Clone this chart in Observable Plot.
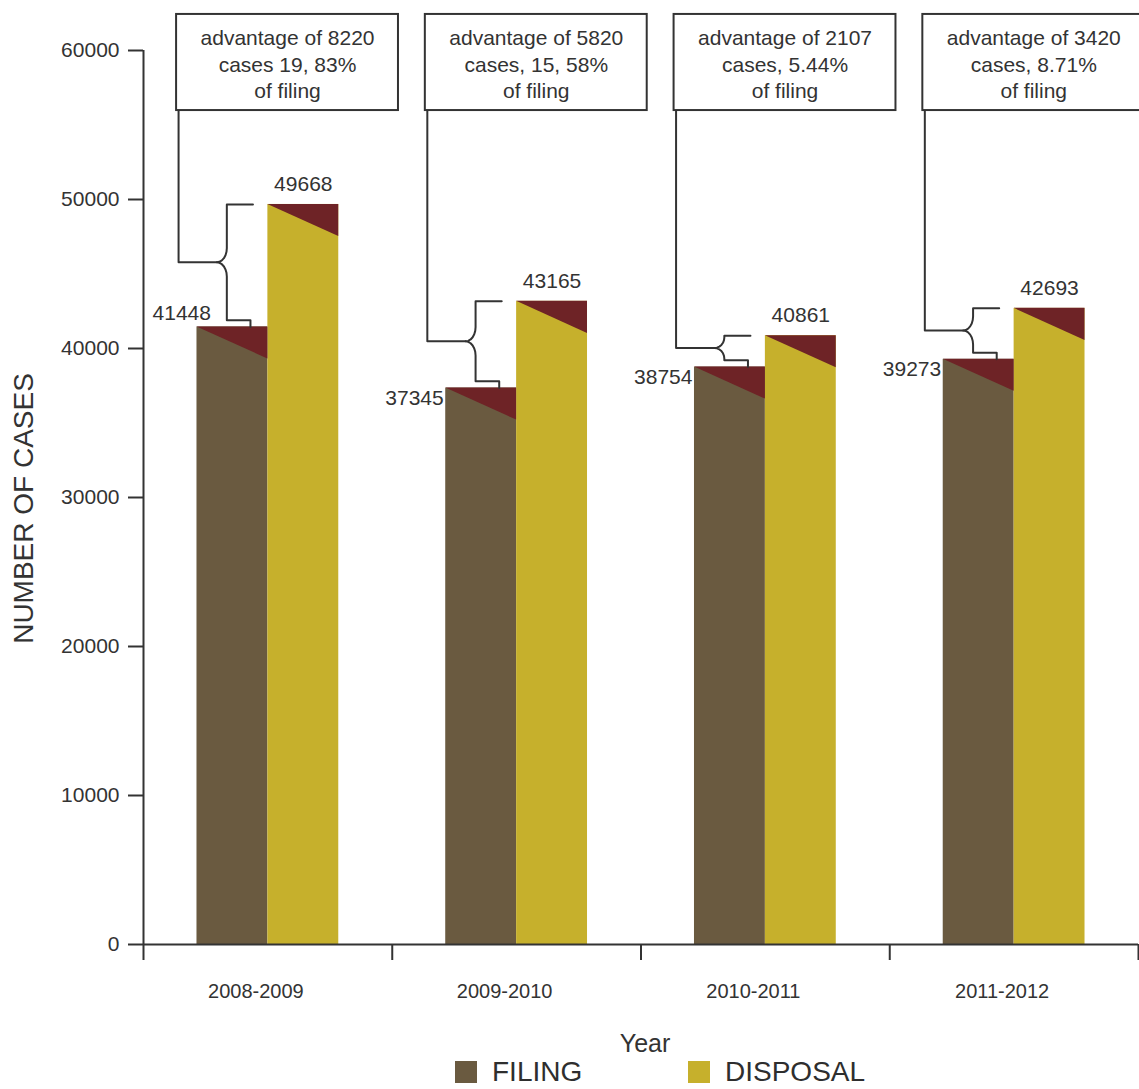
<!DOCTYPE html>
<html><head><meta charset="utf-8">
<script src="https://cdn.jsdelivr.net/npm/d3@7"></script>
<script src="https://cdn.jsdelivr.net/npm/@observablehq/plot@0.6"></script>
<style>
body{margin:0;background:#fff;font-family:"Liberation Sans",Arial,Helvetica,sans-serif;overflow:hidden}
#wrap{position:relative;width:1139px;height:1089px;overflow:hidden}
.leg{position:absolute;display:flex;align-items:center;font-size:28px;color:#2e2e2e;line-height:28px;height:28px}
.sw{display:inline-block;width:22px;height:22px;margin-right:15px}
</style></head><body><div id="wrap"><div id="chart"></div></div>
<script>
// ---- data ----
const years = ["2008-2009", "2009-2010", "2010-2011", "2011-2012"];
const filing = [41448, 37345, 38754, 39273];
const disposal = [49668, 43165, 40861, 42693];
const advantageNotes = [
  "advantage of 8220\ncases 19, 83%\nof filing",
  "advantage of 5820\ncases, 15, 58%\nof filing",
  "advantage of 2107\ncases, 5.44%\nof filing",
  "advantage of 3420\ncases, 8.71%\nof filing"
];
const yTicks = [0, 10000, 20000, 30000, 40000, 50000, 60000];
const seriesNames = ["FILING", "DISPOSAL"];
const seriesColors = ["#6a5a40", "#c6b02c"];
const capColor = "#6e2326";
const ink = "#333";

// ---- layout constants (in scale units) ----
const BAR_W = 0.285, TRI = 2150;
const BOX_L = 0.133, BOX_R = 1.025, BOX_B = 55970, BOX_T = 62420, BOX_TEXT_Y = 59130;
const BX = -0.165, CUSP_W = 0.04, TOP_END = -0.06, BOT_END = -0.07, F_OFF = 450;

const rows = years.map((year, i) => ({i, year, filing: filing[i], disposal: disposal[i], note: advantageNotes[i]}));
const bars = rows.flatMap(r => [
  {i: r.i, s: 0, x1: r.i + 0.5 - BAR_W, x2: r.i + 0.5, v: r.filing},
  {i: r.i, s: 1, x1: r.i + 0.5, x2: r.i + 0.5 + BAR_W, v: r.disposal}
]);
const tris = bars.flatMap((b, k) => [
  {k, x: b.x1, y1: b.v, y2: b.v},
  {k, x: b.x2, y1: b.v - TRI, y2: b.v}
]);
const braces = rows.flatMap(r => {
  const c = r.i + 0.5, bx = c + BX, D = r.disposal, F = r.filing, Fb = F + F_OFF;
  const mid = (D + Fb) / 2, h = Math.min(950, (D - Fb) / 2 * 0.85);
  const pts = [[c + TOP_END, D], [bx, D]];
  const ts = d3.range(0, 7).map(j => j / 6 * Math.PI / 2);
  ts.forEach(t => pts.push([bx - CUSP_W + CUSP_W * Math.cos(t), mid + h - h * Math.sin(t)]));
  ts.slice().reverse().forEach(t => pts.push([bx - CUSP_W + CUSP_W * Math.cos(t), mid - h + h * Math.sin(t)]));
  pts.push([bx, Fb], [c + BOT_END, Fb], [c + BOT_END, F]);
  return pts.map(([x, y]) => ({g: r.i, x, y}));
});
const leaders = rows.flatMap(r => {
  const c = r.i + 0.5, bx = c + BX, Fb = r.filing + F_OFF;
  const mid = (r.disposal + Fb) / 2, lx = r.i + BOX_L + 0.008;
  return [{g: r.i, x: lx, y: BOX_B}, {g: r.i, x: lx, y: mid}, {g: r.i, x: bx - CUSP_W, y: mid}];
});

const chart = Plot.plot({
  width: 1139, height: 1060,
  marginLeft: 143, marginRight: 1, marginTop: 50, marginBottom: 116,
  x: {domain: [0, 4], axis: null},
  y: {domain: [0, 60000], axis: null},
  style: {fontFamily: '"Liberation Sans", Arial, Helvetica, sans-serif', color: ink, background: "transparent", overflow: "visible"},
  marks: [
    Plot.rect(bars, {x1: "x1", x2: "x2", y1: 0, y2: "v", fill: d => seriesColors[d.s]}),
    Plot.areaY(tris, {x: "x", y1: "y1", y2: "y2", z: "k", fill: capColor}),
    Plot.ruleY([0], {stroke: ink, strokeWidth: 2}),
    Plot.ruleX([0], {y1: 0, y2: 60000, stroke: ink, strokeWidth: 2}),
    Plot.axisY({ticks: yTicks, tickSize: 15, tickPadding: 9, fontSize: 21, tickFormat: d3.format("d"), label: null, stroke: ink, strokeWidth: 2, fill: ink}),
    Plot.axisX({ticks: [0, 1, 2, 3, 4], tickSize: 16, tickFormat: () => "", label: null, stroke: ink, strokeWidth: 2}),
    Plot.axisX({ticks: [0.5, 1.5, 2.5, 3.5], tickSize: 0, tickPadding: 39, fontSize: 20, tickFormat: d => years[Math.floor(d)], label: null, dx: -12, fill: ink}),
    Plot.line(braces, {x: "x", y: "y", z: "g", stroke: ink, strokeWidth: 2}),
    Plot.line(leaders, {x: "x", y: "y", z: "g", stroke: ink, strokeWidth: 2}),
    Plot.rect(rows, {x1: d => d.i + BOX_L, x2: d => d.i + BOX_R, y1: BOX_B, y2: BOX_T, fill: "white", stroke: ink, strokeWidth: 2}),
    Plot.text(rows, {x: d => d.i + (BOX_L + BOX_R) / 2, y: BOX_TEXT_Y, text: "note", fontSize: 21, lineHeight: 1.26, lineAnchor: "middle", fill: ink}),
    Plot.text(rows, {x: d => d.i + 0.5 + BAR_W / 2, y: "disposal", text: d => String(d.disposal), dy: -20, fontSize: 21, fill: ink}),
    Plot.text(rows.filter(d => d.i === 0), {x: d => d.i + 0.5 - BAR_W, y: "filing", text: d => String(d.filing), textAnchor: "end", dx: 14, dy: -14, fontSize: 21, fill: ink}),
    Plot.text(rows.filter(d => d.i > 0), {x: d => d.i + 0.5 - BAR_W, y: "filing", text: d => String(d.filing), textAnchor: "end", dx: -2, dy: 10, fontSize: 21, fill: ink}),
    Plot.text(["NUMBER OF CASES"], {frameAnchor: "left", textAnchor: "middle", lineAnchor: "middle", rotate: -90, dx: -119, dy: 11, fontSize: 28, fill: ink}),
    Plot.text(["Year"], {frameAnchor: "bottom", textAnchor: "middle", lineAnchor: "middle", dx: 4, dy: 99, fontSize: 25, fill: ink})
  ]
});
const wrap = document.getElementById("wrap");
document.getElementById("chart").appendChild(chart);
const legLeft = [455, 688];
seriesNames.forEach((name, k) => {
  const d = document.createElement("div");
  d.className = "leg";
  d.style.left = legLeft[k] + "px";
  d.style.top = "1058px";
  const sw = document.createElement("span");
  sw.className = "sw";
  sw.style.background = seriesColors[k];
  d.appendChild(sw);
  d.appendChild(document.createTextNode(name));
  wrap.appendChild(d);
});
</script></body></html>
